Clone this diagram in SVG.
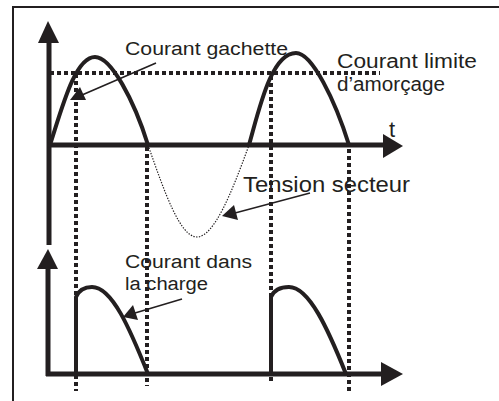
<svg xmlns="http://www.w3.org/2000/svg" width="499" height="401" viewBox="0 0 499 401">
  <style>
    .txt { font-family: "Liberation Sans", Arial, sans-serif; fill: #231f20; }
    .axis { stroke: #231f20; stroke-width: 5; fill: none; }
    .curve { stroke: #231f20; stroke-width: 4; fill: none; stroke-linejoin: round; }
    .dots { stroke: #231f20; stroke-width: 4; fill: none; stroke-dasharray: 4 3; }
    .fine { stroke: #231f20; stroke-width: 1.2; fill: none; stroke-dasharray: 1.4 1.4; }
    .lead { stroke: #231f20; stroke-width: 1.6; fill: none; }
    .head { fill: #231f20; }
  </style>
  <rect width="499" height="401" fill="#ffffff"/>
  <g id="frame">
    <path d="M13,401 V7 H499" stroke="#231f20" stroke-width="2" fill="none"/>
  </g>

  <g id="upper-axes">
    <path class="axis" d="M49,40 V245"/>
    <polygon class="head" points="48,21 38,43 59,43"/>
    <path class="axis" d="M47,145 H386"/>
    <polygon class="head" points="403,146 383,134 383,158"/>
    <text class="txt" x="389" y="137" font-size="22">t</text>
  </g>

  <g id="lower-axes">
    <path class="axis" d="M48,266 V376"/>
    <polygon class="head" points="48,249 37,269 58,269"/>
    <path class="axis" d="M46,374 H384"/>
    <polygon class="head" points="403,374 381,362 381,386"/>
  </g>

  <g id="guides">
    <path class="dots" d="M50,73 H380"/>
    <path class="dots" d="M76,74 V391"/>
    <path class="dots" d="M147,147 V386"/>
    <path class="dots" d="M271,76 V384"/>
    <path class="dots" d="M349,149 V391"/>
  </g>

  <g id="gate-current">
    <path class="curve" d="M50,145 C62,108 75,57 95,57 C111,57 134,100 148,145"/>
    <path class="curve" d="M249,145 C259,110 271,53 296,53 C312,53 335,100 349,145"/>
  </g>

  <g id="mains-voltage">
    <path class="fine" d="M148,145 C164.5,192 180,237 197,237 C214,237 232,192 249,145"/>
  </g>

  <g id="load-current">
    <path class="curve" d="M76,374 V297 C79,290 85,287 92,287 C112,287 130,329 148,374"/>
    <path class="curve" d="M271,374 V297 C274,290 281,287 289,287 C309,287 328,329 346,374"/>
  </g>

  <g id="labels">
    <text class="txt" x="125" y="55" font-size="18" textLength="163" lengthAdjust="spacingAndGlyphs">Courant gachette</text>
    <text class="txt" x="337" y="68" font-size="20" textLength="140" lengthAdjust="spacingAndGlyphs">Courant limite</text>
    <text class="txt" x="337" y="91" font-size="20" textLength="108" lengthAdjust="spacingAndGlyphs">d’amorçage</text>
    <text class="txt" x="243" y="192" font-size="22" textLength="167" lengthAdjust="spacingAndGlyphs">Tension secteur</text>
    <text class="txt" x="125" y="268" font-size="18" textLength="127" lengthAdjust="spacingAndGlyphs">Courant dans</text>
    <text class="txt" x="125" y="290" font-size="18" textLength="83" lengthAdjust="spacingAndGlyphs">la charge</text>
  </g>

  <g id="connectors">
    <path class="lead" d="M156,63 L82,95"/>
    <polygon class="head" points="70,100 80,87 86,100"/>
    <path class="lead" d="M310,193 L235,213"/>
    <polygon class="head" points="222,216 234,205 238,220"/>
    <path class="lead" d="M182,299 L135,313"/>
    <polygon class="head" points="123,317 133,305 138,320"/>
  </g>
</svg>
